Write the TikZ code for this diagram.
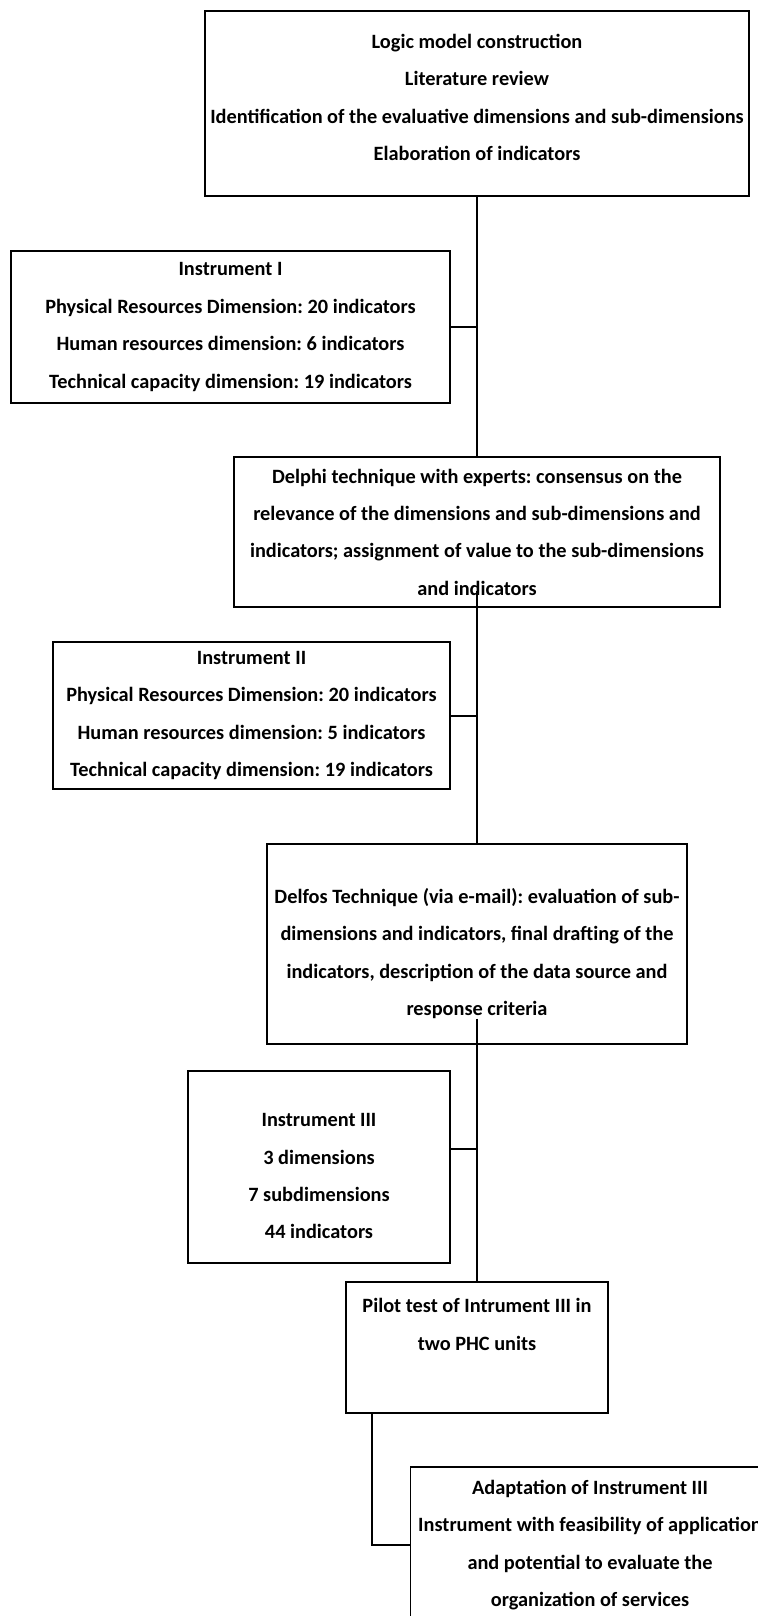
\documentclass[tikz,border=0pt]{standalone}
\usepackage{fontspec}
\setmainfont{Carlito}
\usepackage{tikz}
\usetikzlibrary{positioning}
\frenchspacing

\begin{document}
\begin{tikzpicture}[x=1bp,y=-1bp,
                every node/.append style = {align=center, font=\fontsize{20.4}{37.5}\selectfont\bfseries},
                box/.style = {draw, line width=1.2bp, inner sep=0pt},
                link/.style = {line width=2bp}]
            \clip (0,0) rectangle (758,1616);
            % boxes
            \node[box, minimum width=544bp, minimum height=185bp, text depth=12bp] (logic) at (477,103.5)
                {Logic model construction\\Literature review\\Identification of the evaluative dimensions and sub-dimensions\\Elaboration of indicators};
            \node[box, minimum width=439bp, minimum height=152bp] (inst1) at (230.5,327)
                {Instrument I\\Physical Resources Dimension: 20 indicators\\Human resources dimension: 6 indicators\\Technical capacity dimension: 19 indicators};
            \node[box, minimum width=486bp, minimum height=150bp] (delphi) at (477,532)
                {Delphi technique with experts: consensus on the\\relevance of the dimensions and sub-dimensions and\\indicators; assignment of value to the sub-dimensions\\and indicators};
            \node[box, minimum width=420bp, minimum height=200bp, text height=146bp] (delfos) at (477,944)
                {Delfos Technique (via e-mail): evaluation of sub-\\dimensions and indicators, final drafting of the\\indicators, description of the data source and\\response criteria};
            \node[box, minimum width=397bp, minimum height=147bp] (inst2) at (251.5,715.5)
                {Instrument II\\Physical Resources Dimension: 20 indicators\\Human resources dimension: 5 indicators\\Technical capacity dimension: 19 indicators};
            \node[box, minimum width=262bp, minimum height=192bp, text height=144bp] (inst3) at (319,1167)
                {Instrument III\\3 dimensions\\7 subdimensions\\44 indicators};
            \node[box, minimum width=262bp, minimum height=131bp, text depth=46bp] (pilot) at (477,1347.5)
                {Pilot test of Intrument III in\\two PHC units};
            \node[box, minimum width=359bp, minimum height=156bp] (adapt) at (590,1545)
                {Adaptation of Instrument III\\Instrument with feasibility of application\\and potential to evaluate the\\organization of services};
            % trunk
            \draw[link] (logic.south) -- (delphi.north);
            \draw[link] ([yshift=17bp]delphi.south) -- (delfos.north);
            \draw[link] ([yshift=26bp]delfos.south) -- (pilot.north);
            \draw[link] (inst1.east) -- (inst1.east -| logic.south);
            \draw[link] (inst2.east) -- (inst2.east -| logic.south);
            \draw[link] ([yshift=18bp]inst3.east) -- ([yshift=18bp]inst3.east -| pilot.north);
            \draw[link] ([xshift=27bp]pilot.south west) |- (adapt.west);
\end{tikzpicture}
\end{document}
